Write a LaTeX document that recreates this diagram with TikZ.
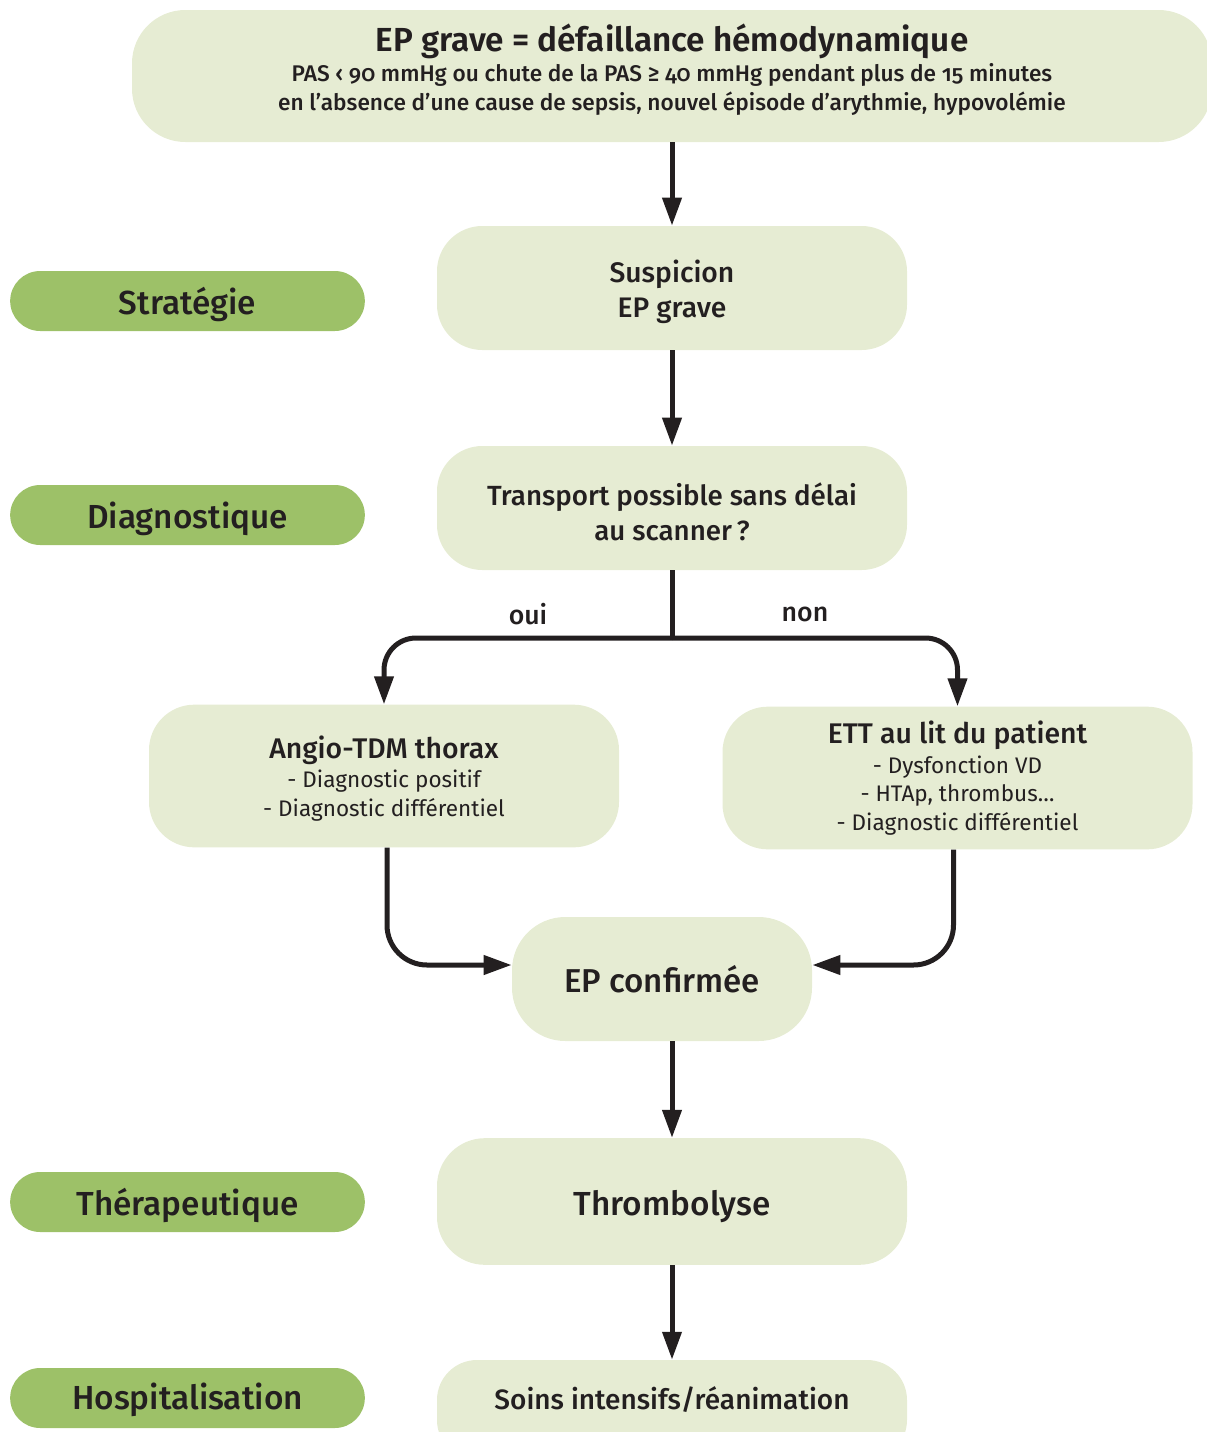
\documentclass[tikz,border=0pt]{standalone}
\usepackage{fontspec}
\setmainfont{Fira Sans}
\newfontfamily\medfont{Fira Sans Medium}
\newfontfamily\semifont{Fira Sans SemiBold}
\usetikzlibrary{arrows.meta}
\definecolor{boxfill}{HTML}{E6ECD3}
\definecolor{labfill}{HTML}{9DC168}
\definecolor{ink}{HTML}{231F20}
% lowered/raised text block that keeps its natural size for centring
\newcommand\shiftblock[3]{\raisebox{#1}[\height][\depth]{\parbox{#2}{\centering #3}}}
\newcommand\shiftline[2]{\raisebox{#1}[\height][\depth]{#2}}
\begin{document}
\begin{tikzpicture}[x=0.75pt,y=-0.75pt,
  box/.style={fill=boxfill, rounded corners=34pt, minimum width=352.5pt, minimum height=93pt,
    align=center, text=ink, inner sep=0pt, font=\medfont\fontsize{21.2}{26}\selectfont},
  lab/.style={fill=labfill, rounded corners=22.5pt, minimum width=266pt, minimum height=45pt,
    text=ink, inner sep=0pt, font=\medfont\fontsize{25}{28}\selectfont},
  arr/.style={-{Triangle[width=14pt,length=21pt]}, line width=3.75pt, draw=ink},
  lin/.style={line width=3.75pt, draw=ink},
  yn/.style={text=ink, font=\medfont\fontsize{20}{22}\selectfont}
]
\useasboundingbox (0,0) rectangle (1207,1432);

% left labels
\node[lab] (l1) at (187.5,301) {\shiftline{-2.25pt}{Stratégie}};
\node[lab] (l2) at (187.5,515) {\shiftline{-3pt}{Diagnostique}};
\node[lab] (l3) at (187.5,1202) {\shiftline{-2.25pt}{Thérapeutique}};
\node[lab] (l4) at (187.5,1398) {\shiftline{-1.5pt}{Hospitalisation}};

% boxes
\node[box, minimum width=810pt, minimum height=99pt, rounded corners=40pt,
      font=\medfont\fontsize{17}{21.75}\selectfont] (top) at (672,76)
  {\shiftblock{4.5pt}{800pt}{{\semifont\fontsize{25}{29}\selectfont EP grave = défaillance hémodynamique}\\[0.5pt]
   {\addfontfeatures{Numbers=OldStyle}PAS ‹ 90 mmHg ou chute de la PAS ≥ 40 mmHg pendant plus de 15 minutes}\\
   en l’absence d’une cause de sepsis, nouvel épisode d’arythmie, hypovolémie}};

\node[box] (susp) at (672,288) {\shiftblock{-3pt}{340pt}{Suspicion\\EP grave}};
\node[box, font=\medfont\fontsize{20.8}{26}\selectfont] (trans) at (672,508)
  {\shiftblock{-3pt}{340pt}{Transport possible sans délai\\au scanner\,?}};

\node[box, minimum height=107pt, font=\normalfont\fontsize{16.9}{21.75}\selectfont] (angio) at (384,776)
  {\shiftblock{-2.25pt}{340pt}{{\medfont\fontsize{21.3}{22}\selectfont Angio-TDM thorax}\\
   - Diagnostic positif\\
   - Diagnostic différentiel}};
\node[box, minimum height=107pt, font=\normalfont\fontsize{16.9}{21.5}\selectfont] (ett) at (957.5,778)
  {{\medfont\fontsize{21.3}{22}\selectfont ETT au lit du patient}\\[1pt]
   - Dysfonction VD\\
   - HTAp, thrombus…\\
   - Diagnostic différentiel};

\node[box, minimum width=225pt, rounded corners=40pt, font=\medfont\fontsize{24.8}{26}\selectfont] (epc) at (662,979) {EP confirmée};
\node[box, minimum height=95pt, rounded corners=36pt, font=\medfont\fontsize{25}{26}\selectfont] (thromb) at (672,1201.5) {\shiftline{-3.5pt}{Thrombolyse}};
\node[box, minimum height=75pt, rounded corners=30pt, font=\medfont\fontsize{21}{26}\selectfont] (soins) at (672,1410) {\shiftline{7.5pt}{Soins intensifs/réanimation}};

% connectors
\draw[arr] (top) -- (susp);
\draw[arr] (susp) -- (trans);
\coordinate (br) at (672,638);
\draw[lin] (trans.south) -- (br);
\draw[arr, rounded corners=24pt] (br) -| (angio.north);
\draw[arr, rounded corners=24pt] (br) -| (ett.north);
\node[yn] (oui) at (528,614) {oui};
\node[yn] (non) at (805,614) {non};
\draw[arr, rounded corners=30pt] ([xshift=2.25pt]angio.south) |- ([yshift=10.5pt]epc.west);
\draw[arr, rounded corners=30pt] ([xshift=-3pt]ett.south) |- ([yshift=10.5pt]epc.east);
\draw[arr] (epc.south -| thromb) -- (thromb.north);
\draw[arr] (thromb) -- (soins);
\end{tikzpicture}
\end{document}
